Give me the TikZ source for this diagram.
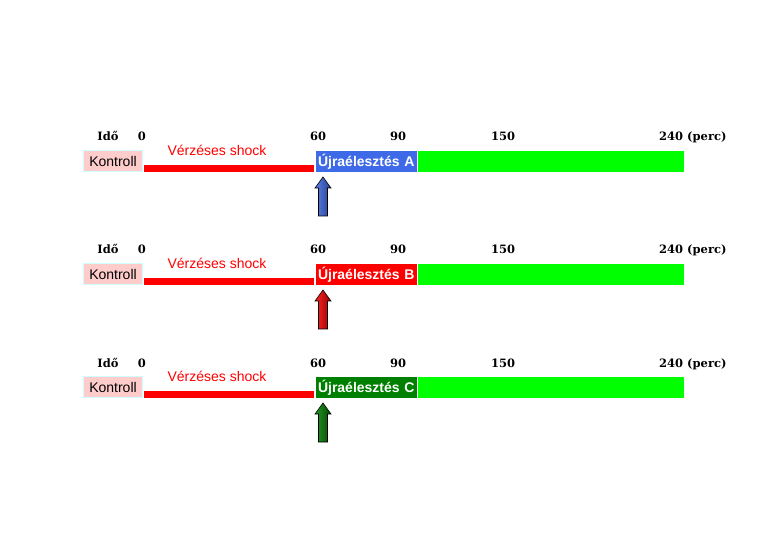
\documentclass[tikz,border=0pt]{standalone}
\usepackage{fontspec}
\setmainfont{Liberation Sans}
\newfontfamily\numfont{DejaVu Serif}
\definecolor{boxA}{RGB}{62,106,232}
\definecolor{boxB}{RGB}{255,0,0}
\definecolor{boxC}{RGB}{0,128,0}
\definecolor{kfill}{RGB}{255,204,204}
\definecolor{kline}{RGB}{204,255,255}
\definecolor{grn}{RGB}{0,255,0}
\tikzset{
  numlbl/.style={font=\numfont\bfseries\fontsize{11.5}{13}\selectfont, inner sep=0pt, anchor=base},
  kbox/.style={fill=kfill, draw=kline, line width=1pt, minimum width=59pt, minimum height=21pt, inner sep=0pt, font=\fontsize{14}{16}\selectfont},
  shockbar/.style={fill=red, minimum width=170pt, minimum height=7pt, inner sep=0pt},
  shocklbl/.style={text=red, font=\fontsize{14}{16}\selectfont, inner sep=0pt, anchor=base},
  resbox/.style={fill=#1, text=white, font=\bfseries\fontsize{14}{16}\selectfont, text width=97pt, inner xsep=2pt, inner ysep=0pt, minimum height=21pt, align=left},
  grnbar/.style={fill=grn, minimum width=266pt, minimum height=21pt, inner sep=0pt},
  blockarrow/.style={draw=black, line width=0.6pt, left color=#1!85!white, right color=#1!60!black, shading angle=90}
}
\begin{document}
\begin{tikzpicture}[x=1pt,y=-1pt]
\useasboundingbox (0,0) rectangle (780,540);
\foreach \dy/\L/\C [count=\i] in {0/A/boxA, 113/B/boxB, 226/C/boxC} {
  \begin{scope}[yshift=-\dy pt]
    \node[numlbl] (ido\i) at (108,141) {Idő};
    \node[numlbl] (t0\i) at (142,141) {0};
    \node[numlbl] (t60\i) at (318,141) {60};
    \node[numlbl] (t90\i) at (398,141) {90};
    \node[numlbl] (t150\i) at (503,141) {150};
    \node[numlbl, anchor=base west] (t240\i) at (659,141) {240 (perc)};
    \node[kbox] (kontroll\i) at (113,161) {Kontroll};
    \node[shockbar] (shock\i) at (229,168.5) {};
    \node[shocklbl] (shocktxt\i) at (217,155.5) {Vérzéses shock};
    \node[resbox=\C] (res\i) at (366.5,161.5) {Újraélesztés \L};
    \node[grnbar] (grn\i) at (551,161.5) {};
    \coordinate (tip\i) at (323,177);
    \path[blockarrow=\C] (tip\i) -- ++(8,11) -- ++(-3.5,0) -- ++(0,28) -- ++(-9,0) -- ++(0,-28) -- ++(-3.5,0) -- cycle;
  \end{scope}
}
\end{tikzpicture}
\end{document}
